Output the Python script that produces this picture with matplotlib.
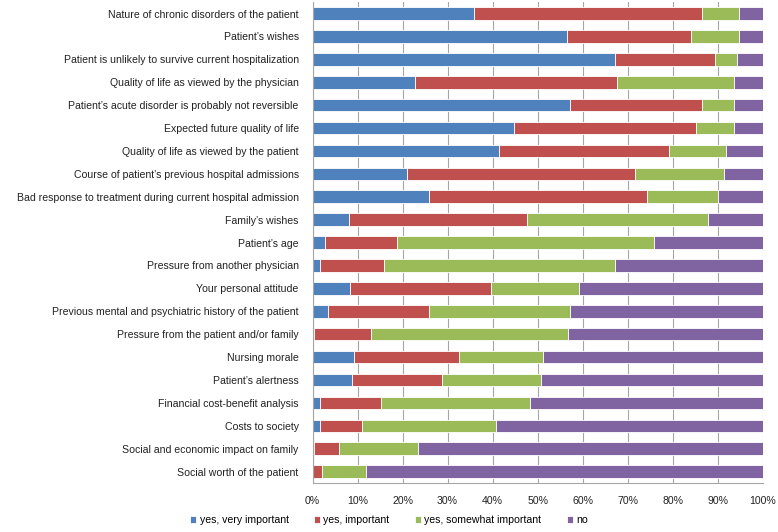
import numpy as np
import matplotlib
matplotlib.use("Agg")
import matplotlib.pyplot as plt
from matplotlib.ticker import PercentFormatter

plt.rcParams["font.family"] = ["Liberation Sans", "DejaVu Sans"]

# categories, top to bottom as in the chart
categories = [
    "Nature of chronic disorders of the patient",
    "Patient\u2019s wishes",
    "Patient is unlikely to survive current hospitalization",
    "Quality of life as viewed by the physician",
    "Patient\u2019s acute disorder is probably not reversible",
    "Expected future quality of life",
    "Quality of life as viewed by the patient",
    "Course of patient\u2019s previous hospital admissions",
    "Bad response to treatment during current hospital admission",
    "Family\u2019s wishes",
    "Patient\u2019s age",
    "Pressure from another physician",
    "Your personal attitude",
    "Previous mental and psychiatric history of the patient",
    "Pressure from the patient and/or family",
    "Nursing morale",
    "Patient\u2019s alertness",
    "Financial cost-benefit analysis",
    "Costs to society",
    "Social and economic impact on family",
    "Social worth of the patient",
]

# percentages
very_important = [35.8, 56.5, 67.2, 22.8, 57.1, 44.7, 41.5, 20.9, 25.8, 8.1, 2.8,
                  1.6, 8.3, 3.4, 0.3, 9.3, 8.7, 1.6, 1.6, 0.3, 0.0]
important = [50.7, 27.5, 22.3, 44.9, 29.4, 40.4, 37.8, 50.8, 48.4, 39.6, 16.0,
             14.2, 31.4, 22.5, 12.6, 23.2, 20.1, 13.6, 9.5, 5.5, 2.2]
somewhat = [8.3, 10.8, 4.7, 25.9, 7.1, 8.5, 12.5, 19.6, 15.8, 40.2, 57.1,
            51.3, 19.6, 31.2, 43.9, 18.6, 21.9, 33.1, 29.7, 17.7, 9.6]
no = [5.2, 5.2, 5.8, 6.4, 6.4, 6.4, 8.2, 8.7, 10.0, 12.1, 24.1,
      32.9, 40.7, 42.9, 43.2, 48.9, 49.3, 51.7, 59.2, 76.5, 88.2]

series = [
    ("yes, very important", very_important, "#4F81BD"),
    ("yes, important", important, "#C0504D"),
    ("yes, somewhat important", somewhat, "#9BBB59"),
    ("no", no, "#8064A2"),
]

fig = plt.figure(figsize=(7.78, 5.32), dpi=100)
ax = fig.add_axes([0.4017, 0.092, 0.5786, 0.904])

y = np.arange(len(categories))
totals = np.sum([np.array(s[1]) for s in series], axis=0)
left = np.zeros(len(categories))
for name, vals, color in series:
    share = np.array(vals) / totals * 100
    ax.barh(y, share, left=left, height=0.55, color=color, label=name,
            edgecolor="white", linewidth=0.6, zorder=2)
    left += share

ax.set_xlim(0, 100)
ax.set_ylim(len(categories) - 0.5, -0.5)
ax.set_yticks(y)
ax.set_yticklabels(categories, fontsize=7.6, color="#222222")
ax.set_xticks(np.arange(0, 101, 10))
ax.xaxis.set_major_formatter(PercentFormatter(decimals=0))
ax.tick_params(axis="x", labelsize=7.6, length=0, pad=9, colors="#222222")
ax.tick_params(axis="y", length=0, pad=10)
ax.grid(axis="x", color="#A6A6A6", linewidth=0.8, zorder=0)
ax.set_axisbelow(True)
for side in ["top", "right"]:
    ax.spines[side].set_visible(False)
for side in ["left", "bottom"]:
    ax.spines[side].set_color("#A6A6A6")

fig.legend(loc="lower center", bbox_to_anchor=(0.5, -0.005), ncol=4,
           frameon=False, fontsize=7.6, handlelength=0.6, handleheight=0.6,
           handletextpad=0.3, columnspacing=2.4)

fig.savefig("out.png", dpi=100)
